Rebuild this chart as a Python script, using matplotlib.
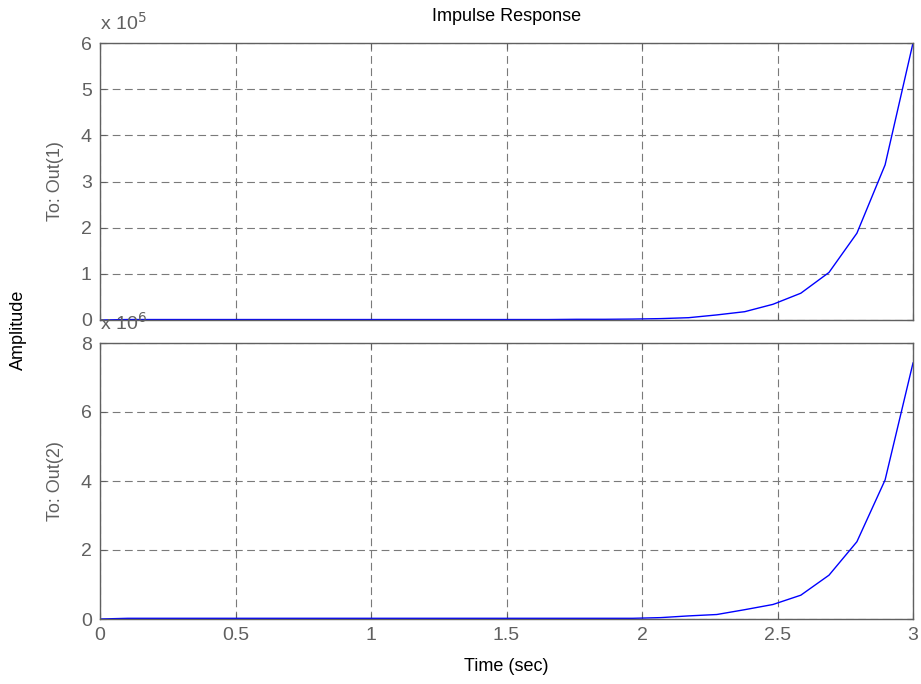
## Impulse response, two outputs (MATLAB style)
import numpy as np
import matplotlib.pyplot as plt

## -----------------------
## Data
t = [0.0, 0.103, 0.207, 0.310, 0.414, 0.517, 0.621, 0.724, 0.828, 0.931,
     1.034, 1.138, 1.241, 1.345, 1.448, 1.552, 1.655, 1.759, 1.862, 1.966,
     2.069, 2.172, 2.276, 2.379, 2.483, 2.586, 2.690, 2.793, 2.897, 3.0]

## Out(1), units of 1e5
out1 = [0.0, 0.01, 0.01, 0.01, 0.01, 0.01, 0.01, 0.01, 0.01, 0.01,
        0.01, 0.01, 0.01, 0.01, 0.01, 0.01, 0.01, 0.015, 0.015, 0.02,
        0.03, 0.05, 0.11, 0.18, 0.34, 0.58, 1.03, 1.88, 3.36, 6.0]

## Out(2), units of 1e6
out2 = [0.0, 0.02, 0.02, 0.02, 0.02, 0.02, 0.02, 0.02, 0.02, 0.02,
        0.02, 0.02, 0.02, 0.02, 0.02, 0.02, 0.02, 0.02, 0.02, 0.02,
        0.04, 0.09, 0.13, 0.27, 0.42, 0.69, 1.27, 2.24, 4.03, 7.42]

xticks = [0, 0.5, 1, 1.5, 2, 2.5, 3]
xticklabels = ['0', '0.5', '1', '1.5', '2', '2.5', '3']

plt.rcParams['font.family'] = ['Liberation Sans', 'DejaVu Sans']

grey = '#606060'
fig = plt.figure(figsize=(9.21, 6.84), dpi=100)
ax1 = fig.add_axes([100/921, 364/684, 813/921, 277/684])
ax2 = fig.add_axes([100/921, 65/684, 813/921, 276/684])

def style(ax, yticks):
    ax.set_xlim(0, 3)
    ax.set_xticks(xticks)
    ax.set_yticks(yticks)
    ax.grid(True, color='#7a7a7a', linestyle=(0, (7, 4)), linewidth=0.8)
    ax.tick_params(direction='in', length=4, color=grey, labelcolor=grey,
                   labelsize=14, top=True, right=True, pad=6)
    for sp in ax.spines.values():
        sp.set_color(grey)
        sp.set_linewidth(1.0)

## Top panel
ax1.plot(t, np.array(out1) * 1e5, color='#0000ff', linewidth=1.0)
ax1.set_ylim(0, 6e5)
style(ax1, [i * 1e5 for i in range(7)])
ax1.set_yticklabels([str(i) for i in range(7)])
ax1.set_xticklabels([])
ax1.set_ylabel('To: Out(1)', color=grey, fontsize=13, labelpad=12)
ax1.set_title('Impulse Response', fontsize=13, pad=16)
ax1.text(0, 1.035, 'x 10$^{5}$', transform=ax1.transAxes, color=grey,
         fontsize=14, ha='left', va='bottom')

## Bottom panel
ax2.plot(t, np.array(out2) * 1e6, color='#0000ff', linewidth=1.0)
ax2.set_ylim(0, 8e6)
style(ax2, [i * 2e6 for i in range(5)])
ax2.set_yticklabels([str(i * 2) for i in range(5)])
ax2.set_xticklabels(xticklabels)
ax2.set_ylabel('To: Out(2)', color=grey, fontsize=13, labelpad=12)
ax2.set_xlabel('Time (sec)', fontsize=13, labelpad=10)
ax2.text(0, 1.035, 'x 10$^{6}$', transform=ax2.transAxes, color=grey,
         fontsize=14, ha='left', va='bottom')

fig.text(18/921, 1 - 330/684, 'Amplitude', rotation=90, fontsize=13,
         ha='center', va='center')

fig.savefig('out.png', dpi=100)
